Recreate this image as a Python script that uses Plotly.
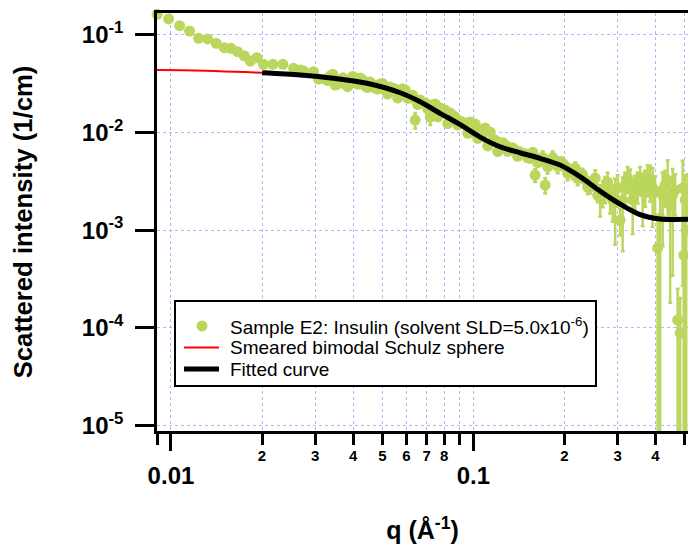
import numpy as np
import plotly.graph_objects as go

# ---- measured data (q in 1/A, intensity in 1/cm, relative error) ----
q_data = [0.00900, 0.00982, 0.01068, 0.01152, 0.01234, 0.01321, 0.01411, 0.01501, 0.01579, 0.01660,
          0.01747, 0.01829, 0.01924, 0.02023, 0.02173, 0.02345, 0.02542, 0.02675, 0.02743, 0.02959,
          0.03074, 0.03236, 0.03362, 0.03492, 0.03627, 0.03768, 0.03914, 0.04066, 0.04224, 0.04388,
          0.04558, 0.04735, 0.04918, 0.05109, 0.05307, 0.05513, 0.05727, 0.05949, 0.06180, 0.06420,
          0.06669, 0.06927, 0.07196, 0.07475, 0.07765, 0.08066, 0.08379, 0.08704, 0.09042, 0.09393,
          0.09757, 0.1014, 0.1053, 0.1094, 0.1136, 0.1180, 0.1226, 0.1274, 0.1323, 0.1374,
          0.1428, 0.1483, 0.1541, 0.1600, 0.1662, 0.1727, 0.1794, 0.1863, 0.1936, 0.2011,
          0.2089, 0.2170, 0.2254, 0.2341, 0.2432, 0.2527, 0.2625, 0.2676, 0.2726, 0.2778,
          0.2832, 0.2886, 0.2942, 0.2999, 0.3056, 0.3115, 0.3175, 0.3236, 0.3298, 0.3361,
          0.3426, 0.3492, 0.3559, 0.3627, 0.3697, 0.3768, 0.3840, 0.3914, 0.3989, 0.4066,
          0.4144, 0.4224, 0.4305, 0.4388, 0.4472, 0.4558, 0.4645, 0.4734, 0.4825, 0.4918,
          0.4959, 0.5013, 0.5053, 0.5109]
I_data = [0.1618, 0.1448, 0.1237, 0.1091, 0.0919, 0.0905, 0.0816, 0.0736, 0.0726, 0.0670,
          0.0609, 0.0538, 0.0581, 0.0498, 0.0498, 0.0498, 0.0453, 0.0435, 0.0425, 0.0418,
          0.0352, 0.03517, 0.03777, 0.03054, 0.03436, 0.03127, 0.03436, 0.03201, 0.03601, 0.02983,
          0.03278, 0.02845, 0.03127, 0.02714, 0.02913, 0.02779, 0.02413, 0.02714, 0.02248, 0.01338,
          0.02144, 0.01998, 0.01436, 0.01952, 0.01776, 0.01694, 0.01578, 0.01436, 0.01307, 0.01247,
          0.01277, 0.01218, 0.01057, 0.01108, 0.01008, 0.00835, 0.00778, 0.007422, 0.006914, 0.006597,
          0.006295, 0.006003, 0.005463, 0.003657, 0.00521, 0.002888, 0.00509, 0.004856, 0.004972, 0.004523,
          0.004115, 0.004314, 0.003657, 0.003251, 0.002888, 0.003407, 0.002127, 0.002449, 0.002692, 0.0031,
          0.002282, 0.002029, 0.002029, 0.002692, 0.001266, 0.002029, 0.002888, 0.003407, 0.0031, 0.002029,
          0.002568, 0.002888, 0.003407, 0.002449, 0.002888, 0.003407, 0.003251, 0.002692, 0.002449, 0.000654,
          0.001327, 0.002282, 0.002888, 0.003251, 0.001803, 0.002282, 0.002568, 0.00012, 0.0000881, 0.002692,
          0.000555, 0.002029, 0.001, 0.002568]
rel_err = [0.03] * 21 + [0.05] * 9 + [0.06] * 6 + [0.07, 0.07, 0.07, 0.18, 0.07, 0.07, 0.17, 0.07] + \
          [0.08] * 9 + [0.09] * 4 + [0.1] * 6 + [0.15, 0.12, 0.18, 0.12, 0.12, 0.12, 0.13, 0.13, 0.14,
          0.15, 0.16, 0.18, 0.2] + \
          [0.35, 0.3, 0.3, 0.25, 0.35, 0.4, 0.65, 0.35, 0.3, 0.7, 0.35, 0.3, 0.35, 0.55, 0.4, 0.35,
           0.3, 0.55, 0.4, 0.35, 0.4, 0.6, 0.45, 1.05, 1.1, 0.7, 0.4, 0.6, 0.9, 0.85, 0.45, 1.1, 1.3,
           0.9, 1.05, 0.8, 1.1, 0.45]

# second, overlapping set of points of the same sample
q_data2 = [0.03298, 0.03427, 0.03559, 0.03697, 0.03840, 0.03989, 0.04144, 0.04305, 0.04472, 0.04646,
           0.04826, 0.05013, 0.05207, 0.05409, 0.05619, 0.05837, 0.06063, 0.06299, 0.06544, 0.06797,
           0.07060, 0.07334, 0.07619, 0.07914, 0.08221, 0.08540, 0.08871, 0.09216, 0.09574, 0.09945,
           0.1034, 0.1073, 0.1115, 0.1158, 0.1203, 0.1250, 0.1299, 0.1348, 0.1400, 0.1455,
           0.1512, 0.1571, 0.1631, 0.1694, 0.1760, 0.1829, 0.1899, 0.1973, 0.2050, 0.2129,
           0.2212, 0.2297, 0.2386, 0.2479, 0.2576]
I_data2 = [0.03396, 0.03940, 0.03127, 0.03618, 0.02941, 0.03741, 0.03112, 0.03444, 0.02879, 0.03069,
           0.02766, 0.03157, 0.02470, 0.02812, 0.02248, 0.02792, 0.02248, 0.02396, 0.01925, 0.01998,
           0.01743, 0.01920, 0.01443, 0.01589, 0.01232, 0.01495, 0.01190, 0.01247, 0.00980, 0.01001,
           0.00867, 0.00955, 0.00728, 0.00811, 0.00637, 0.00785, 0.00641, 0.00696, 0.00570, 0.00609,
           0.00549, 0.00626, 0.00490, 0.00558, 0.00444, 0.00553, 0.00450, 0.00481, 0.00380, 0.00390,
           0.00339, 0.00370, 0.00276, 0.00299, 0.00227]
rel_err2 = [0.05] * 15 + [0.08] * 28 + [0.15] * 12

# ---- model curve (smeared bimodal Schulz sphere) ----
curve_q = [0.00899, 0.0110, 0.0130, 0.0150, 0.0175, 0.02003, 0.02675, 0.03446, 0.04443, 0.05725,
           0.06667, 0.07762, 0.0904, 0.1052, 0.1225, 0.1427, 0.1661, 0.1934, 0.2252, 0.2622,
           0.3054, 0.3556, 0.414, 0.5123]
curve_I = [0.0436, 0.0432, 0.0427, 0.0421, 0.0415, 0.0408, 0.0387, 0.0358, 0.0318, 0.02547,
           0.0206, 0.01567, 0.01203, 0.00896, 0.00713, 0.00619, 0.00542, 0.00463, 0.00352, 0.00251,
           0.00185, 0.00144, 0.00130, 0.00129]
fit_start_q = 0.02

# ---- axis ticks ----
x_minor_vals = [0.009, 0.01, 0.02, 0.03, 0.04, 0.05, 0.06, 0.07, 0.08, 0.09, 0.1, 0.2, 0.3, 0.4, 0.5]
x_minor_text = ["", "", "2", "3", "4", "5", "6", "7", "8", "", "", "2", "3", "4", "5"]
x_major_vals = [0.01, 0.1]
x_major_text = ["0.01", "0.1"]
y_vals = [1e-5, 1e-4, 1e-3, 1e-2, 1e-1]
y_text = ["10<sup>-5</sup>", "10<sup>-4</sup>", "10<sup>-3</sup>", "10<sup>-2</sup>", "10<sup>-1</sup>"]

legend_labels = ["Sample E2: Insulin (solvent SLD=5.0x10<sup>-6</sup>)",
                 "Smeared bimodal Schulz sphere",
                 "Fitted curve"]

x_range = [np.log10(0.00899), np.log10(0.5123)]
y_range = [np.log10(8.8e-6), np.log10(0.1667)]

GREEN = "rgb(187,214,92)"
GRID = "rgb(180,180,250)"
FONT = "Liberation Sans, Arial, sans-serif"

all_q = q_data + q_data2
all_I = I_data + I_data2
all_err = [i * r for i, r in zip(I_data, rel_err)] + [i * r for i, r in zip(I_data2, rel_err2)]
fit_q = [q for q in curve_q if q >= fit_start_q]
fit_I = [v for q, v in zip(curve_q, curve_I) if q >= fit_start_q]

fig = go.Figure()
fig.add_trace(go.Scatter(x=all_q, y=all_I, mode="markers",
                         marker=dict(size=11, color="rgba(0,0,0,0)"),
                         error_y=dict(type="data", array=all_err, color=GREEN, thickness=2.5, width=2),
                         showlegend=False, hoverinfo="skip"))
fig.add_trace(go.Scatter(x=all_q, y=all_I, mode="markers", cliponaxis=False,
                         marker=dict(size=11, color=GREEN),
                         name=legend_labels[0], showlegend=False))
fig.add_trace(go.Scatter(x=curve_q, y=curve_I, mode="lines",
                         line=dict(color="rgb(255,0,0)", width=2, shape="spline", smoothing=0.8),
                         name=legend_labels[1], showlegend=False))
fig.add_trace(go.Scatter(x=fit_q, y=fit_I, mode="lines",
                         line=dict(color="black", width=5, shape="spline", smoothing=0.8),
                         name=legend_labels[2], showlegend=False))
# invisible helper so the overlaid axis carrying the decade labels is drawn
fig.add_trace(go.Scatter(x=x_major_vals, y=[1e-3, 1e-3], xaxis="x2", mode="markers",
                         marker=dict(size=1, color="rgba(0,0,0,0)"), showlegend=False, hoverinfo="skip"))

# ---- legend box (drawn in paper coordinates) ----
L_X0, L_X1, L_Y0, L_Y1 = 0.0339, 0.8267, 0.1077, 0.3110
row_y = [0.2512, 0.1998, 0.1483]
sym_x0, sym_xc, sym_x1, text_x = 0.0509, 0.0848, 0.1168, 0.1337
shapes = [
    dict(type="rect", xref="paper", yref="paper", x0=L_X0, x1=L_X1, y0=L_Y0, y1=L_Y1,
         line=dict(color="black", width=2), fillcolor="white", layer="above"),
    dict(type="circle", xref="paper", yref="paper", xsizemode="pixel", ysizemode="pixel",
         xanchor=sym_xc, yanchor=row_y[0], x0=-5.5, x1=5.5, y0=-5.5, y1=5.5,
         line=dict(width=0), fillcolor=GREEN, layer="above"),
    dict(type="line", xref="paper", yref="paper", x0=sym_x0, x1=sym_x1, y0=row_y[1], y1=row_y[1],
         line=dict(color="rgb(255,0,0)", width=2), layer="above"),
    dict(type="line", xref="paper", yref="paper", x0=sym_x0, x1=sym_x1, y0=row_y[2], y1=row_y[2],
         line=dict(color="black", width=5), layer="above"),
]
annotations = [dict(xref="paper", yref="paper", x=text_x, y=yy, xanchor="left", yanchor="middle",
                    text=t, showarrow=False, font=dict(size=19, family=FONT, color="black"))
               for t, yy in zip(legend_labels, row_y)]

fig.update_layout(
    width=688, height=544,
    margin=dict(l=157, r=0, t=13, b=113, autoexpand=False),
    plot_bgcolor="white", paper_bgcolor="white",
    font=dict(family=FONT, color="black"),
    showlegend=False,
    shapes=shapes, annotations=annotations,
    xaxis=dict(type="log", range=x_range, tickvals=x_minor_vals, ticktext=x_minor_text,
               automargin=False,
               ticks="outside", ticklen=11, tickwidth=2.5, tickcolor="black",
               showline=True, linewidth=2.5, linecolor="black", mirror=True,
               showgrid=True, gridcolor=GRID, griddash="dot", gridwidth=1, zeroline=False,
               tickfont=dict(size=15, weight="bold", family=FONT), ticklabelstandoff=-2,
               title=dict(text="q (Å<sup>-1</sup>)", font=dict(size=25, weight="bold", family=FONT),
                          standoff=73)),
    xaxis2=dict(type="log", range=x_range, overlaying="x", anchor="y", side="bottom",
                automargin=False,
                tickvals=x_major_vals, ticktext=x_major_text,
                ticks="outside", ticklen=19, tickwidth=2.5, tickcolor="black",
                showline=False, showgrid=False, zeroline=False,
                tickfont=dict(size=24, weight="bold", family=FONT), ticklabelstandoff=4),
    yaxis=dict(type="log", range=y_range, tickvals=y_vals, ticktext=y_text,
               automargin=False,
               ticks="outside", ticklen=19, tickwidth=2.5, tickcolor="black",
               showline=True, linewidth=2.5, linecolor="black",
               showgrid=True, gridcolor=GRID, griddash="dot", gridwidth=1, zeroline=False,
               tickfont=dict(size=24, weight="bold", family=FONT), ticklabelstandoff=7,
               title=dict(text="Scattered intensity (1/cm)",
                          font=dict(size=25.7, weight="bold", family=FONT), standoff=42)),
)

fig.write_html("out.html")
